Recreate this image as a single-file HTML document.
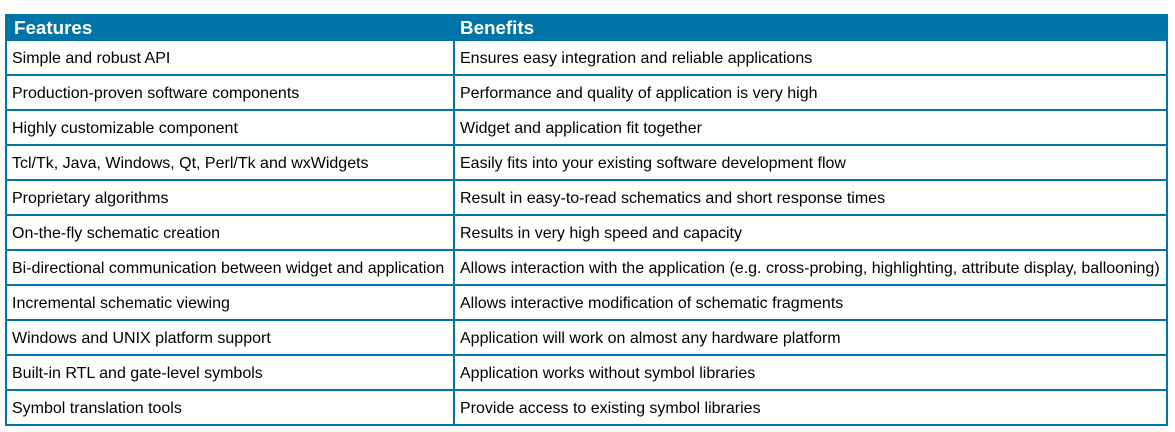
<!DOCTYPE html>
<html><head><style>
body{margin:0;width:1175px;height:432px;background:#fff;position:relative;overflow:hidden;font-family:"Liberation Sans",Arial,sans-serif}
#t{position:absolute;left:5px;top:14px;width:1163px;height:412px;background:#0074a6}
.h{position:absolute;top:0;height:26px;line-height:27px;color:#fff;font-weight:bold;font-size:18.8px}
.c{position:absolute;background:#fff;font-size:16px;color:#000;line-height:35px;padding-left:5px;box-sizing:border-box;white-space:nowrap;overflow:hidden}
</style></head><body>
<div id="t">
<div class="h" style="left:9px">Features</div>
<div class="h" style="left:455px">Benefits</div>
</div>
<script>
var rows=[["Simple and robust API","Ensures easy integration and reliable applications"],
["Production-proven software components","Performance and quality of application is very high"],
["Highly customizable component","Widget and application fit together"],
["Tcl/Tk, Java, Windows, Qt, Perl/Tk and wxWidgets","Easily fits into your existing software development flow"],
["Proprietary algorithms","Result in easy-to-read schematics and short response times"],
["On-the-fly schematic creation","Results in very high speed and capacity"],
["Bi-directional communication between widget and application","Allows interaction with the application (e.g. cross-probing, highlighting, attribute display, ballooning)"],
["Incremental schematic viewing","Allows interactive modification of schematic fragments"],
["Windows and UNIX platform support","Application will work on almost any hardware platform"],
["Built-in RTL and gate-level symbols","Application works without symbol libraries"],
["Symbol translation tools","Provide access to existing symbol libraries"]];
var t=document.getElementById('t'),h='';
rows.forEach(function(r,i){var y=27+35*i;
h+='<div class="c" style="left:2px;top:'+y+'px;width:446px;height:33px">'+r[0]+'</div>';
h+='<div class="c" style="left:450px;top:'+y+'px;width:711px;height:33px">'+r[1]+'</div>';});
t.insertAdjacentHTML('beforeend',h);
</script>
</body></html>
